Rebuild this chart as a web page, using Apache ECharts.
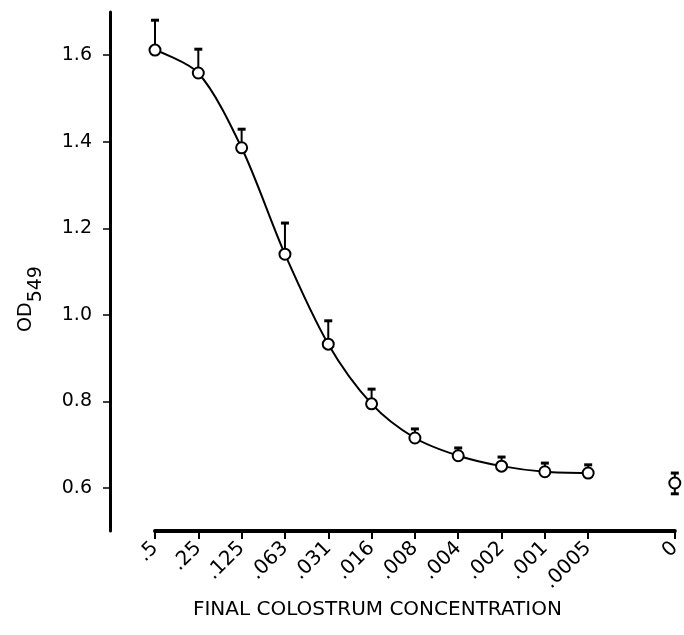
<!DOCTYPE html>
<html>
<head>
<meta charset="utf-8">
<script src="https://cdn.jsdelivr.net/npm/echarts@6/dist/echarts.min.js"></script>
<style>
  html, body { margin: 0; padding: 0; background: #fff; }
  #chart { width: 684px; height: 635px; }
</style>
</head>
<body>
<div id="chart"></div>
<script>
// 濃度標籤 (空字串為斷軸位置)
const concentrations = ['.5', '.25', '.125', '.063', '.031', '.016', '.008', '.004', '.002', '.001', '.0005', '', '0'];
// 平均 OD549
const odMean = [1.612, 1.559, 1.386, 1.140, 0.932, 0.794, 0.715, 0.674, 0.650, 0.637, 0.634, null, 0.611];
// 誤差棒上端
const odHigh = [1.681, 1.614, 1.429, 1.212, 0.986, 0.828, 0.736, 0.692, 0.671, 0.657, 0.653, null, 0.634];
// 誤差棒下端 (只有 0 這一點畫下方)
const odLow = [null, null, null, null, null, null, null, null, null, null, null, null, 0.586];
const yTicks = [0.6, 0.8, 1.0, 1.2, 1.4, 1.6];

const FONT = 'DejaVu Sans';

document.addEventListener('DOMContentLoaded', function () {
    const chart = echarts.init(document.getElementById('chart'));

    // 曲線只連到 .0005，0 那一點單獨畫
    const curveData = odMean.map((v, i) => (i < 11 ? v : null));
    const zeroData = odMean.map((v, i) => (i === 12 ? v : null));
    const errData = concentrations.map((c, i) => [i, odMean[i], odHigh[i], odLow[i]])
        .filter(d => d[1] != null);

    chart.setOption({
        animation: false,
        grid: { left: 155, right: 5, top: 12, bottom: 104 },
        xAxis: {
            type: 'category',
            data: concentrations,
            boundaryGap: false,
            axisLine: { lineStyle: { color: '#000', width: 4 } },
            axisTick: {
                interval: (i, v) => v !== '',
                length: 8,
                lineStyle: { color: '#000', width: 2 }
            },
            axisLabel: {
                interval: (i, v) => v !== '',
                rotate: 45,
                margin: 14,
                color: '#000',
                fontFamily: FONT,
                fontSize: 20
            },
            name: 'FINAL COLOSTRUM CONCENTRATION',
            nameLocation: 'middle',
            nameGap: 64,
            nameTextStyle: {
                color: '#000',
                fontFamily: FONT,
                fontSize: 20,
                padding: [0, 75, 0, 0]
            }
        },
        yAxis: {
            type: 'value',
            min: 0.5,
            max: 1.7,
            offset: 45,
            splitLine: { show: false },
            axisLine: { show: true, lineStyle: { color: '#000', width: 3 } },
            axisTick: {
                show: true,
                customValues: yTicks,
                length: 7,
                lineStyle: { color: '#000', width: 1.5 }
            },
            axisLabel: {
                customValues: yTicks,
                formatter: v => v.toFixed(1),
                margin: 18,
                color: '#000',
                fontFamily: FONT,
                fontSize: 19
            },
            name: '{a|OD}{b|549}',
            nameLocation: 'middle',
            nameRotate: 90,
            nameGap: 64,
            nameTextStyle: {
                padding: [0, 55, 0, 0],
                rich: {
                    a: { fontFamily: FONT, fontSize: 19, color: '#000', padding: [0, 0, 10, 0] },
                    b: { fontFamily: FONT, fontSize: 19, color: '#000', padding: [10, 0, 0, 0] }
                }
            }
        },
        series: [
            {
                type: 'custom',
                z: 1,
                renderItem: function (params, api) {
                    const x = api.value(0);
                    const p = api.coord([x, api.value(1)]);
                    const children = [];
                    const cap = 4;
                    [api.value(2), api.value(3)].forEach(function (e) {
                        if (e == null || isNaN(e)) return;
                        const q = api.coord([x, e]);
                        children.push({
                            type: 'line',
                            shape: { x1: p[0], y1: p[1], x2: q[0], y2: q[1] },
                            style: { stroke: '#000', lineWidth: 2 }
                        });
                        children.push({
                            type: 'line',
                            shape: { x1: q[0] - cap, y1: q[1], x2: q[0] + cap, y2: q[1] },
                            style: { stroke: '#000', lineWidth: 3 }
                        });
                    });
                    return { type: 'group', children: children };
                },
                data: errData
            },
            {
                type: 'line',
                z: 3,
                smooth: 0.3,
                data: curveData,
                symbol: 'circle',
                symbolSize: 11,
                showAllSymbol: true,
                lineStyle: { color: '#000', width: 2 },
                itemStyle: { color: '#fff', borderColor: '#000', borderWidth: 2 }
            },
            {
                type: 'line',
                z: 3,
                data: zeroData,
                symbol: 'circle',
                symbolSize: 11,
                lineStyle: { width: 0 },
                itemStyle: { color: '#fff', borderColor: '#000', borderWidth: 2 }
            }
        ]
    });
});
</script>
</body>
</html>
